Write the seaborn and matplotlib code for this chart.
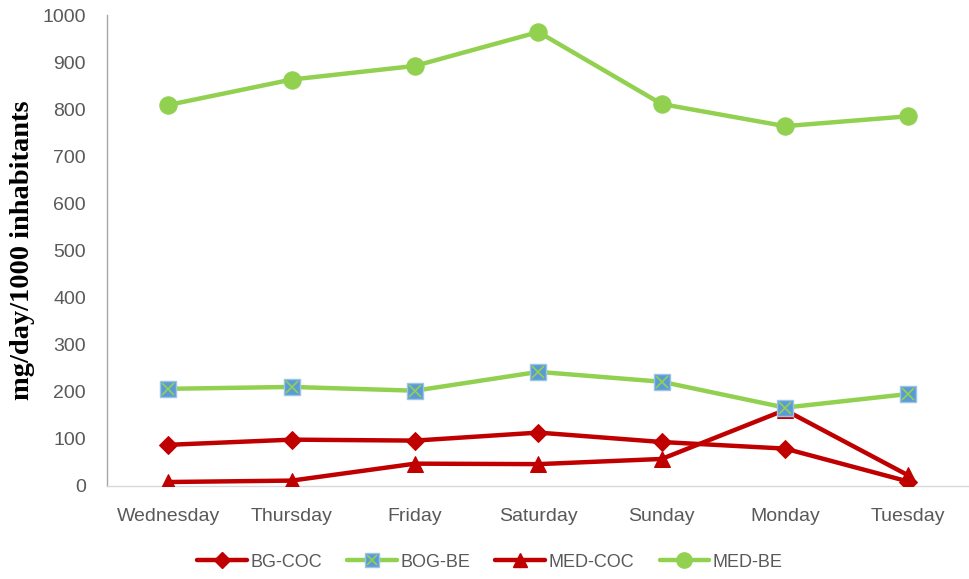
import matplotlib
matplotlib.use("Agg")
import matplotlib.pyplot as plt
import seaborn as sns
from matplotlib.legend_handler import HandlerTuple
from matplotlib.lines import Line2D

days = ["Wednesday", "Thursday", "Friday", "Saturday", "Sunday", "Monday", "Tuesday"]
bg_coc = [87, 98, 96, 113, 93, 79, 9]
bog_be = [206, 210, 202, 242, 221, 166, 195]
med_coc = [8, 11, 47, 46, 57, 161, 22]
med_be = [809, 863, 892, 964, 811, 764, 785]
yticks = list(range(0, 1001, 100))

RED = "#C00000"
GREEN = "#92D050"
BLUE = "#5B9BD5"
GREY = "#595959"

sns.set_theme(style="white")
plt.rcParams["font.family"] = ["Liberation Sans", "DejaVu Sans"]

fig = plt.figure(figsize=(9.7, 5.79), dpi=100)
ax = fig.add_axes([0.110, 0.161, 0.890, 0.813])

x = list(range(len(days)))
lw = 3.2

sns.lineplot(x=x, y=bg_coc, ax=ax, color=RED, lw=lw, marker="D", markersize=9,
             markeredgecolor=RED, markerfacecolor=RED, zorder=3)
sns.lineplot(x=x, y=med_coc, ax=ax, color=RED, lw=lw, marker="^", markersize=12,
             markeredgecolor=RED, markerfacecolor=RED, zorder=3)
sns.lineplot(x=x, y=bog_be, ax=ax, color=GREEN, lw=lw, marker="s", markersize=11,
             markeredgecolor="#9DC3E6", markerfacecolor=BLUE, markeredgewidth=1, zorder=4)
sns.lineplot(x=x, y=bog_be, ax=ax, color=GREEN, lw=0, marker="x", markersize=8,
             markeredgecolor=GREEN, markeredgewidth=1.2, zorder=5)
sns.lineplot(x=x, y=med_be, ax=ax, color=GREEN, lw=lw, marker="o", markersize=12.5,
             markeredgecolor=GREEN, markerfacecolor=GREEN, zorder=3)

ax.set_xlim(-0.5, len(days) - 0.5)
ax.set_ylim(0, 1000)
ax.set_xticks(x)
ax.set_xticklabels(days)
ax.set_yticks(yticks)
ax.tick_params(axis="both", colors=GREY, labelsize=14, length=0)
ax.tick_params(axis="y", pad=15)
ax.tick_params(axis="x", pad=16)
for lab in ax.get_xticklabels() + ax.get_yticklabels():
    lab.set_color(GREY)

for s in ["top", "right"]:
    ax.spines[s].set_visible(False)
ax.spines["left"].set_color("#A6A6A6")
ax.spines["bottom"].set_color("#D9D9D9")
ax.spines["left"].set_linewidth(1)
ax.spines["bottom"].set_linewidth(1)
ax.grid(False)

ax.set_ylabel("mg/day/1000 inhabitants", fontfamily="Liberation Serif",
              fontweight="bold", fontsize=20.5, color="black")
ax.yaxis.set_label_coords(-0.0834, 0.5)
ax.set_xlabel("")

h1 = Line2D([], [], color=RED, lw=lw, marker="D", markersize=8, markerfacecolor=RED, markeredgecolor=RED)
h2a = Line2D([], [], color=GREEN, lw=lw, marker="s", markersize=10, markerfacecolor=BLUE, markeredgecolor="#9DC3E6")
h2b = Line2D([], [], color=GREEN, lw=0, marker="x", markersize=7, markeredgecolor=GREEN, markeredgewidth=1.2)
h3 = Line2D([], [], color=RED, lw=lw, marker="^", markersize=10, markerfacecolor=RED, markeredgecolor=RED)
h4 = Line2D([], [], color=GREEN, lw=lw, marker="o", markersize=11, markerfacecolor=GREEN, markeredgecolor=GREEN)
leg = fig.legend([h1, (h2a, h2b), h3, h4], ["BG-COC", "BOG-BE", "MED-COC", "MED-BE"],
                 handler_map={tuple: HandlerTuple(ndivide=1, pad=0)},
                 loc="center", bbox_to_anchor=(0.505, 0.029), ncol=4, frameon=False,
                 fontsize=13, handlelength=2.75, columnspacing=1.4, handletextpad=0.2)
for t in leg.get_texts():
    t.set_color(GREY)

fig.savefig("out.png", dpi=100)
